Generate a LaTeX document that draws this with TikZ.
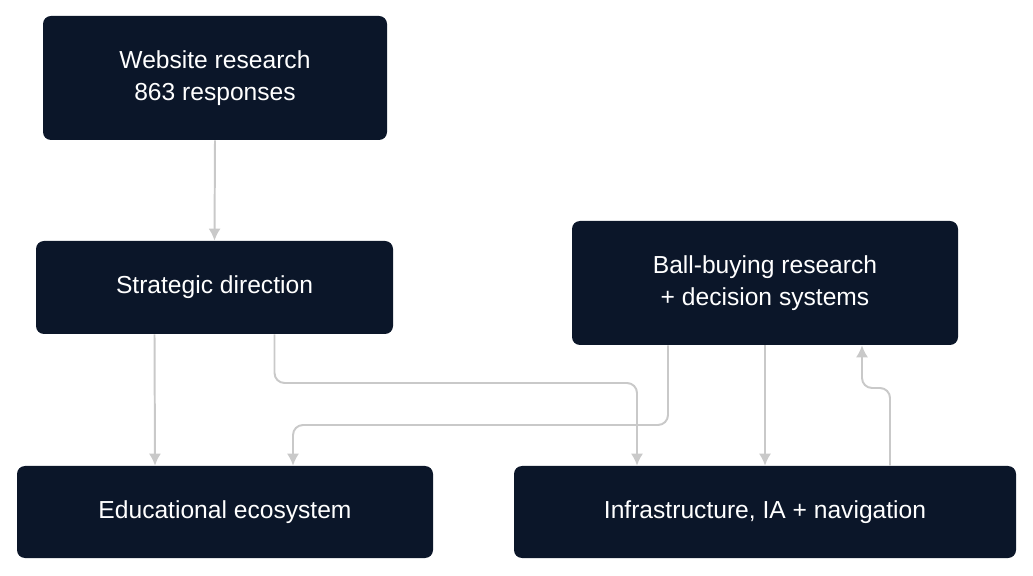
\documentclass[tikz,border=0pt]{standalone}
\usepackage{fontspec}
\setmainfont{Liberation Sans}
\usetikzlibrary{calc, arrows.meta}
\definecolor{boxnavy}{HTML}{0B1629}
\definecolor{linkgray}{HTML}{C9C9C9}

\begin{document}
\begin{tikzpicture}[
    x=0.025cm, y=-0.025cm,
    stage/.style={
        draw=none, fill=boxnavy, rounded corners=0.2cm,
        text=white, align=center, inner sep=0,
        font=\fontsize{17.5}{22.5}\selectfont
      },
    link/.style={
        draw=linkgray, line width=1.4pt, rounded corners=0.25cm,
        -{Latex[length=0.3cm, width=0.3cm]}
      }
  ]
  \useasboundingbox (0,0) rectangle (1033,576);

  \node[stage, minimum width=344*0.025cm, minimum height=124*0.025cm]
  (website) at (215,78) {Website research\\863 responses};
  \node[stage, minimum width=357*0.025cm, minimum height=93*0.025cm]
  (strategy) at (214.5,287.5) {Strategic direction};
  \node[stage, minimum width=386*0.025cm, minimum height=124*0.025cm]
  (ballbuy) at (765,283) {Ball-buying research\\+ decision systems};
  \node[stage, minimum width=416*0.025cm, minimum height=92*0.025cm]
  (edu) at (225,512) {Educational ecosystem};
  \node[stage, minimum width=502*0.025cm, minimum height=92*0.025cm]
  (infra) at (765,512) {Infrastructure, IA + navigation};

  \draw[link] (website.south) -- (strategy.north);
  \draw[link] ($(strategy.south)+(-60,0)$) -- ($(edu.north)+(-70,0)$);
  \draw[link] ($(strategy.south)+(60,0)$) |- (637,383) -- ($(infra.north)+(-128,0)$);
  \draw[link] ($(ballbuy.south)+(-97,0)$) |- (293,425) -- ($(edu.north)+(68,0)$);
  \draw[link] (ballbuy.south) -- (infra.north);
  \draw[link] ($(infra.north)+(125,0)$) |- (862,388) -- ($(ballbuy.south)+(97,0)$);
\end{tikzpicture}
\end{document}
